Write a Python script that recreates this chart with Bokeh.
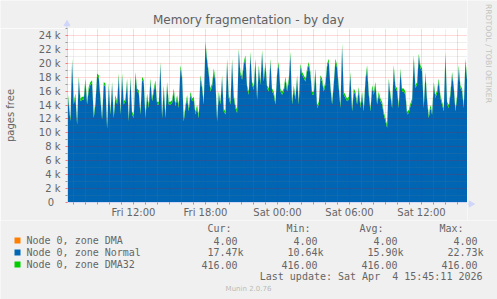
import math
from bokeh.plotting import figure
from bokeh.models import ColumnDataSource, FixedTicker, Range1d
from bokeh.layouts import column, row
from bokeh.core.properties import value
from bokeh.embed import file_html
from bokeh.resources import INLINE

# ---------------- data ----------------
# Free pages in zone Normal, one sample every 500 s starting Fri 06:28
normal_seg1 = [16200, 14060, 11680, 20250, 14060, 15250, 11200, 17630, 14530, 14770,
               14770, 17390, 14060, 16200, 16910, 17150, 12150, 14060, 18100, 17870,
               14770, 11910, 16910, 16680, 10640, 16680, 12630, 16910, 12150, 15010,
               14060, 18100, 12630, 18100, 14060, 14530, 17390, 11680, 17630, 12630,
               12150, 18340, 15960, 15720, 12630, 17630, 17150, 12150, 15250, 13580,
               17390, 14530, 15960, 17150, 14060, 14060, 19770, 12150, 16440, 12150,
               16910, 14060, 14060]
normal_seg2 = [14290, 15960, 13820, 15010, 13580, 19290, 17870, 11680, 13580, 15010,
               13100, 15490, 14530, 14770, 12630, 13580, 12150, 17870, 16440, 14060,
               22730, 20250, 18340, 15960, 16680, 18820, 17390, 11680, 15490, 14060,
               17870, 13100, 12630, 20250, 15010, 14060, 20250, 15010, 13580, 12870,
               21680, 18340, 17630, 19770, 20720, 16440, 15490, 21200, 16910, 16200,
               20250, 14770, 19290, 16910, 21440, 17390, 19770, 16440, 15960, 20250,
               15960, 15490, 14060]
normal_seg3 = [18340, 19770, 15960, 15490, 15960, 17630, 15960, 17390, 21200, 14060,
               16440, 14770, 17870, 14060, 19530, 18340, 17870, 17390, 18820, 19770,
               18340, 15490, 15490, 18820, 13580, 14060, 17870, 17390, 15960, 16910,
               19530, 20250, 16440, 14060, 16910, 20250, 19290, 16440, 13580, 22390,
               15490, 15010, 14530, 14770, 18340, 13100, 15960, 15490, 14060, 16200,
               13580, 15490, 13100, 17390, 19290, 15490, 13100, 16440, 15490, 16910,
               14060, 15490, 14530]
normal_seg4 = [14060, 12630, 11680, 10720, 17390, 15250, 13580, 19290, 16440, 15960,
               13580, 18820, 15960, 15960, 15490, 12630, 12870, 13820, 14530, 20720,
               16440, 16910, 20960, 19290, 18820, 13580, 18340, 14530, 12150, 13580,
               12630, 16910, 15010, 15720, 17390, 15010, 14060, 13100, 21200, 14060,
               13580, 15490, 18340, 16440, 13100, 15010, 19290, 16440, 15960, 13580,
               20250, 17470]
normal_pages = normal_seg1 + normal_seg2 + normal_seg3 + normal_seg4
dma_pages = 4
dma32_pages = 416
first_sample_hour = 6 + 28 / 60      # hours since Fri 00:00
sample_step_s = 500

series_names = ["Node 0, zone DMA", "Node 0, zone Normal", "Node 0, zone DMA32"]
series_colors = ["#FF8000", "#0066B3", "#00CC00"]
cur_vals = ["4.00", "17.47k", "416.00"]
min_vals = ["4.00", "10.64k", "416.00"]
avg_vals = ["4.00", "15.90k", "416.00"]
max_vals = ["4.00", "22.73k", "416.00"]
col_headers = ["Cur:", "Min:", "Avg:", "Max:"]

x_tick_hours = [12, 18, 24, 30, 36]
x_tick_labels = ["Fri 12:00", "Fri 18:00", "Sat 00:00", "Sat 06:00", "Sat 12:00"]
y_tick_values = [0, 2000, 4000, 6000, 8000, 10000, 12000, 14000, 16000, 18000, 20000, 22000, 24000]
y_tick_labels = ["0\u00a0\u00a0", "2 k", "4 k", "6 k", "8 k", "10 k", "12 k", "14 k", "16 k",
                 "18 k", "20 k", "22 k", "24 k"]

title_text = "Memory fragmentation - by day"
y_label = "pages free"
last_update = "Last update: Sat Apr \u00a04 15:45:11 2026"
footer = "Munin 2.0.76"
watermark = "RRDTOOL / TOBI OETIKER"

# ---------------- style ----------------
X0 = 6.5
X1 = 6.5 + 400 / 12
FONT = "DejaVu Sans"
MONO = "DejaVu Sans Mono"
TXT = "#666666"
AXC = "#CFD6F8"
BG = "#F0F0F0"
TOP_H = 28          # canvas y of frame top
FRAME_B = 203       # canvas y of frame bottom
FRAME_L = 67
FRAME_R = 467
CHART_B = 220       # canvas y where legend panel starts


def pixel_panel(w, h, x0, y0):
    f = figure(width=w, height=h, x_range=Range1d(x0, x0 + w), y_range=Range1d(y0 + h, y0),
               output_backend="svg", toolbar_location=None,
               x_axis_location=None, y_axis_location=None,
               min_border=0, min_border_left=0, min_border_right=0,
               min_border_top=0, min_border_bottom=0)
    f.background_fill_color = BG
    f.border_fill_color = BG
    f.outline_line_color = None
    f.xgrid.visible = False
    f.ygrid.visible = False
    return f


# ---------------- chart ----------------
n = len(normal_pages)
t = [first_sample_hour + i * sample_step_s / 3600 for i in range(n)]
src = ColumnDataSource(dict(t=t, dma=[dma_pages] * n, normal=normal_pages,
                            dma32=[dma32_pages] * n))

p = figure(width=FRAME_R, height=CHART_B - TOP_H, x_range=Range1d(X0, X1),
           y_range=Range1d(0, 25000), title=None,
           output_backend="svg", toolbar_location=None,
           min_border_left=FRAME_L, min_border_right=0, min_border_top=0,
           min_border_bottom=CHART_B - FRAME_B)
p.background_fill_color = "#FFFFFF"
p.border_fill_color = BG
p.outline_line_color = None

p.varea_stack(["dma", "normal", "dma32"], x="t", color=series_colors, source=src)

major_x = [h for h in range(9, 40, 3)]
minor_x = [h for h in range(7, 40) if h % 3 != 0]
xt = FixedTicker(ticks=major_x, minor_ticks=minor_x)
p.xaxis.ticker = xt
p.xgrid.ticker = xt
overrides = {h: "" for h in major_x}
for h, lbl in zip(x_tick_hours, x_tick_labels):
    overrides[h] = lbl
p.xaxis.major_label_overrides = overrides

yt = FixedTicker(ticks=y_tick_values, minor_ticks=[v + 1000 for v in y_tick_values])
p.yaxis.ticker = yt
p.ygrid.ticker = yt
p.yaxis.major_label_overrides = dict(zip(y_tick_values, y_tick_labels))
p.yaxis.axis_label = y_label
p.yaxis.axis_label_text_font = FONT
p.yaxis.axis_label_text_font_size = "10px"
p.yaxis.axis_label_text_font_style = "normal"
p.yaxis.axis_label_text_color = TXT
p.yaxis.axis_label_standoff = 20

for ax in (p.xaxis, p.yaxis):
    ax.axis_line_color = AXC
    ax.major_tick_line_color = "#FF0000"
    ax.major_tick_line_alpha = 0.5
    ax.minor_tick_line_color = "#999999"
    ax.major_tick_out = 2
    ax.major_tick_in = 0
    ax.minor_tick_out = 2
    ax.minor_tick_in = 0
    ax.major_label_text_font = FONT
    ax.major_label_text_font_size = "10px"
    ax.major_label_text_color = TXT
p.xaxis.major_label_standoff = 2
p.yaxis.major_label_standoff = 5

for g in (p.xgrid, p.ygrid):
    g.level = "overlay"
    g.grid_line_color = "#FF0000"
    g.grid_line_alpha = 0.3
    g.grid_line_dash = "1 1"
    g.minor_grid_line_color = "#808080"
    g.minor_grid_line_alpha = 0.25
    g.minor_grid_line_dash = "1 1"

# ---------------- title panel (top) with y-axis arrow ----------------
top = pixel_panel(FRAME_R, TOP_H, 0, 0)
top.text(x=[248], y=[19], text=[title_text], text_font=value(FONT), text_font_size="12px",
         text_color="#606060", text_align="center", text_baseline="middle")
top.segment(x0=[FRAME_L - 0.5], y0=[TOP_H], x1=[FRAME_L - 0.5], y1=[24], line_color=AXC)
top.scatter(x=[FRAME_L - 0.5], y=[23.5], marker="triangle", size=6, fill_color=AXC,
            line_color=AXC)

# ---------------- watermark panel (right) with x-axis arrow ----------------
w = pixel_panel(497 - FRAME_R, CHART_B, FRAME_R, 0)
w.text(x=[488], y=[53], text=[watermark], angle=-math.pi / 2, text_font=value(FONT),
       text_font_size="7.7px", text_color="#C4C4C4", text_align="center",
       text_baseline="middle")
w.segment(x0=[FRAME_R], y0=[FRAME_B + 0.5], x1=[470], y1=[FRAME_B + 0.5], line_color=AXC)
w.scatter(x=[470.5], y=[FRAME_B + 0.5], marker="triangle", angle=-math.pi / 2, size=6,
          fill_color=AXC, line_color=AXC)

# ---------------- legend panel (bottom) ----------------
q = pixel_panel(497, 299 - CHART_B, 0, CHART_B)
header_y = 228
row_y = [240, 252, 264]
q.text(x=[231, 310, 383, 463], y=[header_y] * 4, text=col_headers,
       text_font=value(MONO), text_font_size="10px", text_color=TXT,
       text_align="right", text_baseline="middle")
q.rect(x=[17] * 3, y=row_y, width=6, height=6, fill_color=series_colors, line_color=None)
q.text(x=[26] * 3, y=row_y, text=series_names, text_font=value(MONO),
       text_font_size="10px", text_color=TXT, text_align="left", text_baseline="middle")
vx, vy, vt = [], [], []
for vals, xr in [(cur_vals, 237), (min_vals, 317), (avg_vals, 397), (max_vals, 477)]:
    for i, v in enumerate(vals):
        vx.append(xr + (6 if v.endswith("k") else 0))
        vy.append(row_y[i])
        vt.append(v)
q.text(x=vx, y=vy, text=vt, text_font=value(MONO), text_font_size="10px",
       text_color=TXT, text_align="right", text_baseline="middle")
q.text(x=[482], y=[276], text=[last_update], text_font=value(MONO), text_font_size="10px",
       text_color=TXT, text_align="right", text_baseline="middle")
q.text(x=[248], y=[288], text=[footer], text_font=value(FONT), text_font_size="7px",
       text_color="#BBBBBB", text_align="center", text_baseline="middle")

# wrap every plot in its own row so the layout does not align their frames
left_stack = column(row(top, spacing=0), row(p, spacing=0), spacing=0)
layout = column(row(left_stack, row(w, spacing=0), spacing=0), row(q, spacing=0), spacing=0)
open("out.html", "w").write(file_html(layout, INLINE))
